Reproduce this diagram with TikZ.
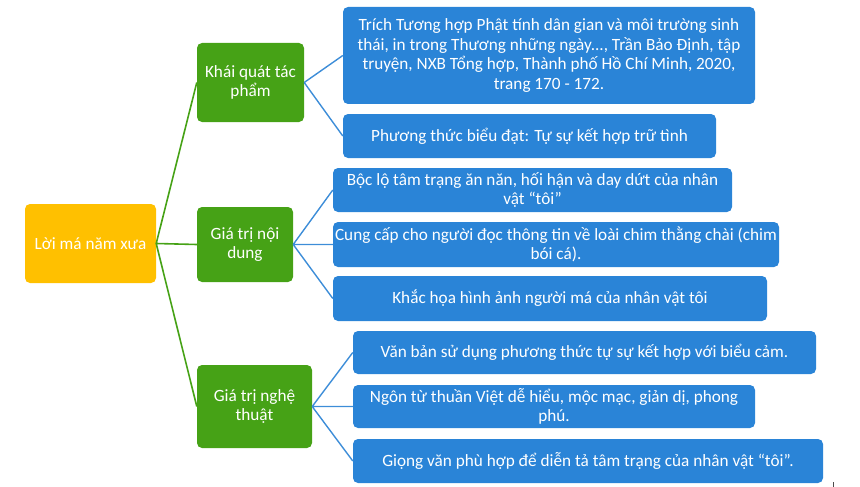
\documentclass[tikz,border=0pt]{standalone}
\usepackage{fontspec}
\setmainfont{Carlito}
\usetikzlibrary{calc}
\definecolor[named]{MapYellow}{HTML}{FFC000}
\definecolor[named]{MapGreen}{HTML}{46A216}
\definecolor[named]{MapBlue}{HTML}{2A84D7}
\definecolor[named]{MapLine}{HTML}{3D8DD8}
\newcommand{\boxfont}{\fontsize{17.2}{19.6}\selectfont}
\tikzset{
  topic/.style={rounded corners=5pt,text=white,align=center,inner sep=1pt,font=\boxfont},
  rootbox/.style={topic,fill=MapYellow},
  partbox/.style={topic,fill=MapGreen},
  leafbox/.style={topic,fill=MapBlue},
}
\begin{document}
\begin{tikzpicture}[x=1pt,y=-1pt]
    \useasboundingbox (0,0) rectangle (860,487);

    % Root and the three parts
    \node[rootbox,minimum width=131pt,minimum height=79pt] (R) at (90.5,243.5) {Lời má năm xưa};
    \begin{scope}[every node/.style={partbox}]
      \node[minimum width=107pt,minimum height=79pt] (K) at (250.5,82.5) {Khái quát tác\\phẩm};
      \node[minimum width=96pt,minimum height=75pt] (N) at (245,244.5) {Giá trị nội\\dung};
      \node[minimum width=115pt,minimum height=83pt] (T) at (254.5,406.5) {Giá trị nghệ\\thuật};
    \end{scope}

    % Leaves
    \begin{scope}[every node/.style={leafbox}]
      \node[minimum width=412pt,minimum height=97pt] (K1) at (549,55.5)
        {Trích Tương hợp Phật tính dân gian và môi trường sinh\\thái, in trong Thương những ngày..., Trần Bảo Định, tập\\truyện, NXB Tổng hợp, Thành phố Hồ Chí Minh, 2020,\\trang 170 - 172.};
      \node[minimum width=373pt,minimum height=44pt] (K2) at (529.5,136)
        {Phương thức biểu đạt: Tự sự kết hợp trữ tình};
      \node[minimum width=399pt,minimum height=44pt] (N1) at (532.5,190)
        {Bộc lộ tâm trạng ăn năn, hối hận và day dứt của nhân\\vật “tôi”};
      \node[minimum width=446pt,minimum height=45pt] (N2) at (556,244.5)
        {Cung cấp cho người đọc thông tin về loài chim thằng chài (chim\\bói cá).};
      \node[minimum width=434pt,minimum height=45pt] (N3) at (550,298.5)
        {Khắc họa hình ảnh người má của nhân vật tôi};
      \node[minimum width=463pt,minimum height=43pt] (T1) at (584.5,352.5)
        {Văn bản sử dụng phương thức tự sự kết hợp với biểu cảm.};
      \node[minimum width=402pt,minimum height=43pt] (T2) at (554,406.5)
        {Ngôn từ thuần Việt dễ hiểu, mộc mạc, giản dị, phong\\phú.};
      \node[minimum width=470pt,minimum height=44pt] (T3) at (588,461)
        {Giọng văn phù hợp để diễn tả tâm trạng của nhân vật “tôi”.};
    \end{scope}

    % Connectors
    \draw[MapGreen,line width=1.6pt]
      (R.east) -- (K.west)
      (R.east) -- (N.west)
      (R.east) -- (T.west);
    \draw[MapLine,line width=1.4pt]
      (K.east) -- (K1.west)
      (K.east) -- (K2.west)
      (N.east) -- (N1.west)
      (N.east) -- (N2.west)
      (N.east) -- (N3.west)
      (T.east) -- (T1.west)
      (T.east) -- (T2.west)
      (T.east) -- (T3.west);

    % Stray mark at the bottom right
    \draw[black!70,line width=1pt] (833,482) coordinate (M1) -- (833,487) coordinate (M2);
\end{tikzpicture}
\end{document}
